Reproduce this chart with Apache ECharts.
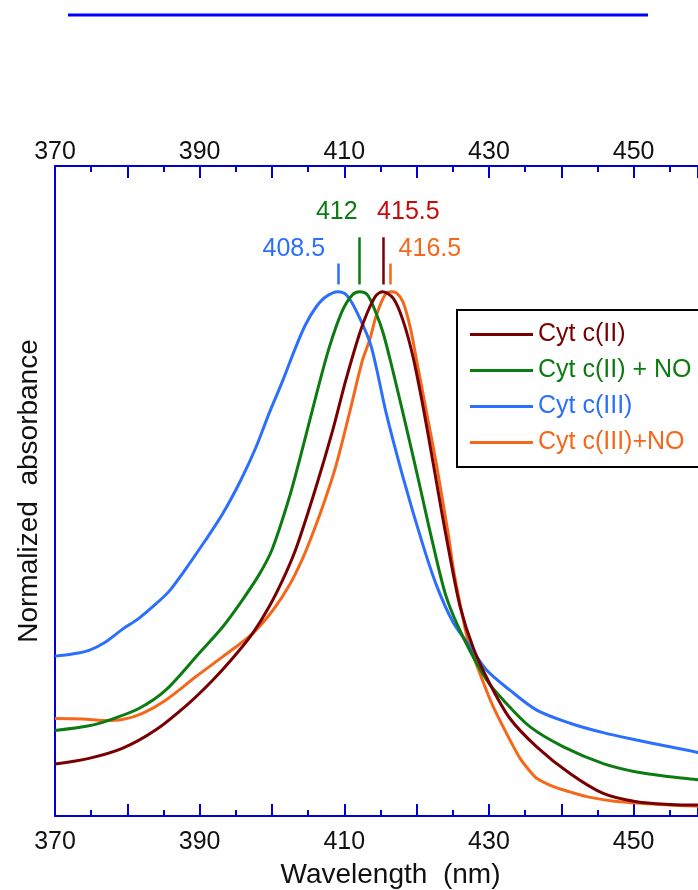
<!DOCTYPE html>
<html>
<head>
<meta charset="utf-8">
<script src="https://cdn.jsdelivr.net/npm/echarts@6/dist/echarts.min.js"></script>
<style>
html,body{margin:0;padding:0;background:#fff;}
#chart{width:698px;height:890px;}
</style>
</head>
<body>
<div id="chart"></div>
<script>
// ---- data ----
const seriesNames = ['Cyt c(II)', 'Cyt c(II) + NO', 'Cyt c(III)', 'Cyt c(III)+NO'];
const xTickLabels = [370, 390, 410, 430, 450];

const cytII_nm = [370,374.7,379.3,383.9,388.5,391.8,394.5,397.3,399.6,401.9,403.5,406.1,408.4,410.2,412.1,413.2,414.4,415.3,416.8,418.1,419.5,420.9,422.3,423.4,424.4,426,427.9,430.2,432.9,436.6,441.2,445.8,450.4,455,458.9,460];
const cytII_abs = [0.099,0.110,0.129,0.164,0.215,0.259,0.300,0.348,0.399,0.463,0.517,0.628,0.736,0.831,0.920,0.961,0.993,1.0,0.987,0.946,0.876,0.780,0.672,0.585,0.510,0.400,0.318,0.250,0.186,0.132,0.081,0.043,0.027,0.022,0.021,0.021];

const cytIINO_nm = [370,374.7,377.5,381.6,385.3,389.9,393.2,395.9,398.2,400,402.4,404.2,406.1,407.9,409.7,411.1,412.1,413.2,414.4,415.4,416.7,418.6,420.4,422.2,424.1,426.4,429.7,432,435.7,440.3,445.8,450.4,455,458.9,460];
const cytIINO_abs = [0.163,0.172,0.183,0.205,0.240,0.310,0.361,0.412,0.460,0.508,0.608,0.700,0.802,0.893,0.963,0.994,1.0,0.994,0.959,0.920,0.850,0.740,0.632,0.522,0.418,0.342,0.259,0.221,0.170,0.132,0.100,0.084,0.075,0.069,0.067];

const cytIII_nm = [370,372.4,374.7,377,379.3,381.6,383.9,385.8,387.6,390.8,393.2,395.7,397.8,399.6,401.5,403.3,404.7,406.1,407.4,409.1,410.3,411.6,413.5,414.4,415.8,418.1,420.8,422.8,425.1,427.4,429.7,432.9,436.6,441.2,445.8,450.4,455,458.9,460];
const cytIII_abs = [0.305,0.309,0.316,0.332,0.356,0.377,0.404,0.429,0.462,0.526,0.577,0.641,0.704,0.768,0.831,0.895,0.939,0.971,0.990,1.0,0.994,0.965,0.905,0.857,0.768,0.647,0.520,0.438,0.368,0.323,0.278,0.240,0.202,0.177,0.159,0.145,0.132,0.121,0.116];

const cytIIINO_nm = [370,373.8,377,379.3,382.1,385.3,389.5,393.2,397.3,400.1,402.4,404.2,405.3,407,408.8,410.7,412.5,413.5,414.5,415.8,416.5,417.2,418.1,419.1,420,421.4,422.8,424.4,425.1,426,427.1,428.8,430.6,432.9,434.3,435.7,436.6,438.9,441.2,443.5,448.1,455,458.9,460];
const cytIIINO_abs = [0.186,0.185,0.182,0.184,0.196,0.221,0.266,0.304,0.348,0.392,0.440,0.490,0.527,0.590,0.666,0.768,0.869,0.908,0.958,0.998,1.0,0.998,0.981,0.933,0.869,0.768,0.666,0.535,0.470,0.405,0.335,0.270,0.208,0.145,0.110,0.085,0.072,0.056,0.046,0.037,0.027,0.021,0.019,0.019];

// peak annotations: tick position (nm), tick top (abs), label text
const peakTickNm = [415.4, 412.0, 409.1, 416.3];
const peakTickTop = [1.104, 1.104, 1.054, 1.054];
const peakTickBottom = 1.014;
const peakLabels = ['415.5', '412', '408.5', '416.5'];

// ---- styles ----
const colors = ['#780000', '#0b7b12', '#2b6ffc', '#f5681b'];
const labelColors = ['#c80a0a', '#0b7b12', '#2b6ffc', '#f5681b'];
const labelOffsets = [[25, -25], [-22, -25], [-44, -14], [40, -14]];
const axisBlue = '#0000d8';
const FONT = 'Liberation Sans, Arial, Helvetica, sans-serif';

const xs = [cytII_nm, cytIINO_nm, cytIII_nm, cytIIINO_nm];
const ys = [cytII_abs, cytIINO_abs, cytIII_abs, cytIIINO_abs];

function pairs(a, b) { return a.map((v, i) => [v, b[i]]); }

const series = seriesNames.map((name, i) => ({
  name: name,
  type: 'line',
  data: pairs(xs[i], ys[i]),
  symbol: 'none',
  smooth: 0.3,
  lineStyle: { color: colors[i], width: 3 },
  itemStyle: { color: colors[i] },
  z: 10 - i,
  markLine: {
    silent: true,
    symbol: ['none', 'none'],
    label: { show: false },
    lineStyle: { color: colors[i], width: 2.5, type: 'solid' },
    data: [[{ coord: [peakTickNm[i], peakTickTop[i]] }, { coord: [peakTickNm[i], peakTickBottom] }]]
  },
  markPoint: {
    silent: true,
    symbol: 'circle',
    symbolSize: 2,
    itemStyle: { color: 'rgba(0,0,0,0)' },
    label: {
      show: true,
      position: 'inside',
      offset: labelOffsets[i],
      formatter: peakLabels[i],
      color: labelColors[i],
      fontSize: 25,
      fontFamily: FONT
    },
    data: [{ coord: [peakTickNm[i], peakTickTop[i]] }]
  }
}));

function xAxisCfg(pos, margin) {
  return {
    type: 'value',
    position: pos,
    min: 370,
    max: 458.9,
    interval: 10,
    axisLine: { show: true, onZero: false, lineStyle: { color: axisBlue, width: 2 } },
    axisTick: { show: true, inside: true, length: 12, lineStyle: { color: axisBlue, width: 2 } },
    minorTick: { show: true, splitNumber: 2, length: 6, lineStyle: { color: axisBlue, width: 2 } },
    splitLine: { show: false },
    axisLabel: {
      show: true,
      margin: margin,
      color: '#111',
      fontSize: 25,
      fontFamily: FONT,
      showMaxLabel: false,
      formatter: v => (xTickLabels.indexOf(v) >= 0 ? String(v) : '')
    }
  };
}

const bottomAxis = xAxisCfg('bottom', 14);
bottomAxis.name = 'Wavelength  (nm)';
bottomAxis.nameLocation = 'middle';
bottomAxis.nameGap = 45;
bottomAxis.nameTextStyle = { color: '#111', fontSize: 28, fontFamily: FONT, padding: [0, 0, 0, 28] };

const topAxis = xAxisCfg('top', 1);

const option = {
  animation: false,
  backgroundColor: '#fff',
  grid: { left: 55, top: 166, width: 643, height: 650, containLabel: false, outerBoundsMode: 'none' },
  xAxis: [bottomAxis, topAxis],
  yAxis: {
    type: 'value',
    min: 0,
    max: 1.24,
    name: 'Normalized  absorbance',
    nameLocation: 'middle',
    nameGap: 12,
    nameRotate: 90,
    nameTextStyle: { color: '#111', fontSize: 28, fontFamily: FONT },
    axisLine: { show: true, onZero: false, lineStyle: { color: axisBlue, width: 2 } },
    axisTick: { show: false },
    axisLabel: { show: false },
    splitLine: { show: false }
  },
  legend: {
    orient: 'vertical',
    left: 457,
    top: 310,
    padding: [12, 20, 12, 13],
    icon: 'rect',
    itemWidth: 63,
    itemHeight: 3,
    itemGap: 11,
    borderColor: '#000',
    borderWidth: 2,
    backgroundColor: '#fff',
    selectedMode: false,
    textStyle: { fontSize: 25, fontFamily: FONT },
    data: seriesNames.map((n, i) => ({ name: n, textStyle: { color: colors[i] } }))
  },
  graphic: [{
    type: 'line',
    shape: { x1: 68, y1: 15, x2: 648, y2: 15 },
    style: { stroke: '#0000ff', lineWidth: 3 }
  }],
  series: series
};

const chart = echarts.init(document.getElementById('chart'), null, { renderer: 'canvas' });
chart.setOption(option);
</script>
</body>
</html>
